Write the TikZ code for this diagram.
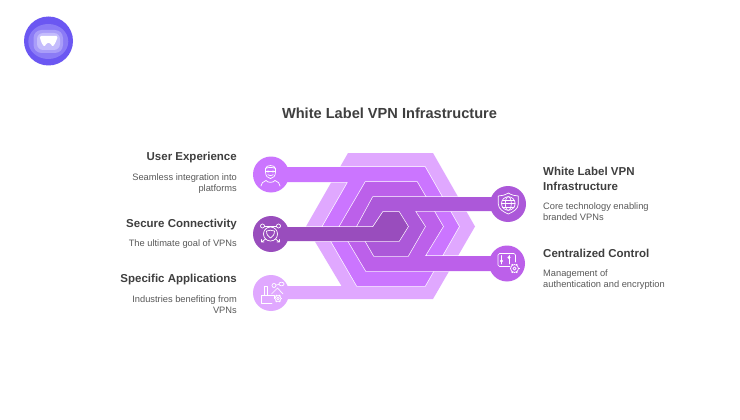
\documentclass[tikz,border=0pt]{standalone}
\usepackage{fontspec}
\setmainfont{Liberation Sans}
\definecolor{cOuter}{HTML}{E0A8FF}
\definecolor{cTwo}{HTML}{CB75FF}
\definecolor{cThree}{HTML}{BC60EA}
\definecolor{cFour}{HTML}{AC58D9}
\definecolor{cCore}{HTML}{994DBD}
\definecolor{cHead}{HTML}{3F3F3F}
\definecolor{cBody}{HTML}{595959}
\definecolor{cLogoA}{HTML}{6B57F2}
\definecolor{cLogoB}{HTML}{8B7BF6}
\definecolor{cLogoC}{HTML}{A99DF9}
\definecolor{cLogoD}{HTML}{C4BCFC}
\tikzset{
  titletext/.style={font=\fontsize{14.6}{18}\selectfont\bfseries,text=cHead,inner sep=0pt},
  headtext/.style={font=\fontsize{11.5}{14.8}\selectfont\bfseries,text=cHead,inner sep=0pt},
  bodytext/.style={font=\fontsize{9.3}{11}\selectfont,text=cBody,inner sep=0pt},
  icon/.style={draw=white,line width=0.7pt,line cap=round,line join=round},
}
% one layer of the stack: hexagon, band and hub as one silhouette, with a thin white edge outside it
\newcommand{\layerband}[4]{% colour, outline, hub centre, hub radius
  \path[draw=white,line width=1.3pt,line join=miter] #2;
  \draw[white,line width=1.3pt] #3 circle (#4pt);
  \fill[#1] #2;
  \fill[#1] #3 circle (#4pt);
}
\newcommand{\gearicon}[4]{% x y radius fill
  \fill[#4] (#1,#2) circle (#3pt);
  \foreach \a in {0,60,...,300}{
    \draw[white,line width=1.3pt] (#1,#2) ++(\a:#3pt) -- ++(\a:1pt);
  }
  \draw[icon] (#1,#2) circle (#3pt);
  \draw[icon] (#1,#2) circle (0.42*#3pt);
}
\begin{document}
\begin{tikzpicture}[x=1pt,y=-1pt]
\useasboundingbox (0,0) rectangle (740,420);
\fill[white] (0,0) rectangle (740,420);

% logo
\fill[cLogoA] (48.5,41) circle (24.5pt);
\fill[cLogoB] (48.3,41.5) ellipse (20pt and 17.5pt);
\fill[cLogoC,rounded corners=8pt] (33.5,30) rectangle (63,53);
\fill[cLogoD,rounded corners=6pt] (37,33) rectangle (60,50);
\fill[white,rounded corners=1.5pt] (39.5,36) -- (58,36) -- (56,41.5) -- (53,47) -- (49.5,42.5) -- (47.5,42.5) -- (44,47) -- (41,41.5) -- cycle;

% title
\node[titletext,anchor=base] (title) at (389.5,118.6) {White Label VPN Infrastructure};

% stacked layers with their bands
\layerband{cOuter}{(348,153) -- (433,153) -- (475,226.5) -- (433,299) -- (271,299) -- (271,286) -- (341.5,286) -- (306,226.5) -- cycle}{(271,293)}{18}
\layerband{cTwo}{(357,167) -- (425,167) -- (459,226.5) -- (425,286) -- (357,286) -- (322.5,226.5) -- (348,182) -- (271,182) -- (271,167) -- cycle}{(271,174.5)}{18}
\layerband{cThree}{(365.5,182) -- (417,182) -- (443,226.5) -- (425,256) -- (507,256) -- (507,271) -- (366,271) -- (339.5,226.5) -- cycle}{(507,263.5)}{18}
\layerband{cFour}{(373,197) -- (508,197) -- (508,211) -- (415,211) -- (425,226.5) -- (408,256) -- (374,256) -- (357,226.5) -- cycle}{(508,204)}{18}
\layerband{cCore}{(383,212) -- (399,212) -- (408,226.5) -- (399,241) -- (271,241) -- (271,227) -- (373,227) -- cycle}{(271,234)}{18}

% user icon
\draw[icon] (265.5,168.5) -- (265.5,172) .. controls (265.5,176) and (268,178.5) .. (270.5,178.5) .. controls (273,178.5) and (275.5,176) .. (275.5,172) -- (275.5,168.5);
\draw[icon] (265.5,168.5) .. controls (266,164.5) and (275,164.5) .. (275.5,168.5) .. controls (272,167) and (269,167) .. (265.5,168.5) -- cycle;
\draw[icon] (265.5,171) -- (275.5,171);
\fill[white] (268,171.5) circle (1.1pt) (273,171.5) circle (1.1pt);
\draw[icon] (267.8,174.8) .. controls (269.5,176) and (271.5,176) .. (273.2,174.8);
\draw[icon] (261,186) .. controls (261,183) and (263,182) .. (266,180.5) .. controls (268,183) and (273,183) .. (275,180.5) .. controls (278,182) and (280,183) .. (280,186);

% connectivity icon
\draw[icon] (270.5,234) circle (7pt);
\draw[icon] (266.5,231) .. controls (269,230) and (272,230) .. (274.5,231) .. controls (274.5,234.5) and (273,236.5) .. (270.5,238) .. controls (268,236.5) and (266.5,234.5) .. (266.5,231) -- cycle;
\draw[icon] (262.5,226) circle (2pt);
\draw[icon] (278.5,226) circle (2pt);
\draw[icon] (264.5,226) -- (276.5,226);
\draw[icon] (265.5,239) -- (261.5,242) (261.5,239.5) -- (261.5,242) -- (264,242);
\draw[icon] (275.5,239) -- (279.5,242) (279.5,239.5) -- (279.5,242) -- (277,242);

% applications icon
\draw[icon] (264,295) -- (264,286) -- (267,286) -- (267,295);
\draw[icon] (274,298) -- (274,295) -- (261.5,295) -- (261.5,303) -- (272,303);
\draw[icon] (271.5,294) -- (277.5,288) -- (283,294);
\draw[icon] (274,285.5) circle (2pt);
\draw[icon] (281.5,284) ellipse (2.6pt and 1.8pt);
\draw[icon] (276,285) -- (279,284.5);
\gearicon{278}{298.5}{3}{cOuter}

% shield icon
\draw[icon] (508.3,193) .. controls (511.5,195) and (515,196) .. (518.3,196) -- (518.3,204) .. controls (518.3,209) and (513,212) .. (508.3,214) .. controls (503.5,212) and (498.3,209) .. (498.3,204) -- (498.3,196) .. controls (501.5,196) and (505,195) .. (508.3,193) -- cycle;
\draw[icon] (508.3,203.5) circle (6.8pt);
\draw[icon] (508.3,203.5) ellipse (3pt and 6.8pt);
\draw[icon] (501.5,203.5) -- (515.1,203.5);
\draw[icon] (502.5,200) -- (514.1,200) (502.5,207) -- (514.1,207);

% control icon
\draw[icon,rounded corners=1.5pt] (510,266.5) -- (498,266.5) -- (498,253.5) -- (515.5,253.5) -- (515.5,262);
\draw[icon] (501.5,255.5) -- (501.5,264);
\draw[icon] (509,255.5) -- (509,264);
\fill[white] (501.5,261) circle (1.7pt);
\fill[white] (509,257.5) circle (1.7pt);
\gearicon{514.5}{268.5}{4}{cThree}

% left labels (anchored on the baseline of the last line)
\node[headtext,anchor=base east] (uxh) at (237,160.7) {User Experience};
\node[bodytext,anchor=base east,align=right] (uxb) at (237,191.4) {Seamless integration into\\platforms};
\node[headtext,anchor=base east] (sch) at (237,227.4) {Secure Connectivity};
\node[bodytext,anchor=base east,align=right] (scb) at (237,246.4) {The ultimate goal of VPNs};
\node[headtext,anchor=base east] (sah) at (237,282.4) {Specific Applications};
\node[bodytext,anchor=base east,align=right] (sab) at (237,313.2) {Industries benefiting from\\VPNs};

% right labels
\node[headtext,anchor=base west,align=left] (wlh) at (543,190.2) {White Label VPN\\Infrastructure};
\node[bodytext,anchor=base west,align=left] (wlb) at (543,220.6) {Core technology enabling\\branded VPNs};
\node[headtext,anchor=base west] (cch) at (543,257) {Centralized Control};
\node[bodytext,anchor=base west,align=left] (ccb) at (543,287.2) {Management of\\authentication and encryption};
\end{tikzpicture}
\end{document}
